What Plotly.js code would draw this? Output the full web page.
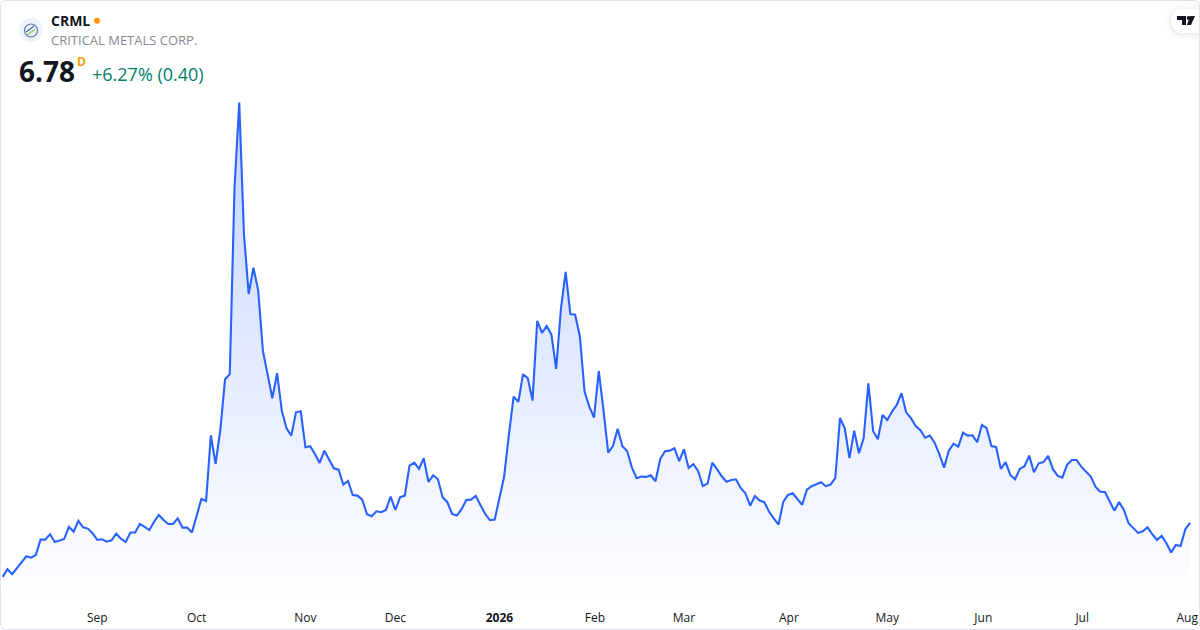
<!DOCTYPE html>
<html><head><meta charset="utf-8">
<script src="https://cdn.plot.ly/plotly-3.0.1.min.js"></script>
<style>html,body{margin:0;padding:0;background:#fff;overflow:hidden}#c{position:absolute;left:0;top:0;width:1200px;height:630px}
#b{position:absolute;left:0;top:0;width:1200px;height:630px;box-sizing:border-box;border:1px solid #e0e3eb;border-radius:6px;pointer-events:none}</style>
</head><body><div id="c"></div><div id="b"></div>
<script>
const symbol = "CRML";
const companyName = "CRITICAL METALS CORP.";
const lastPrice = "6.78";
const interval = "D";
const changeText = "+6.27% (0.40)";
const closes = [3.41,3.89,3.58,3.95,4.36,4.70,4.61,4.78,5.74,5.74,6.08,5.59,5.68,5.78,6.53,6.24,6.91,6.51,6.43,6.14,
5.72,5.76,5.61,5.70,6.11,5.80,5.59,6.18,6.18,6.72,6.53,6.34,6.86,7.28,6.97,6.72,6.72,7.07,6.49,6.49,
6.18,7.22,8.28,8.16,12.26,10.47,12.59,15.76,16.08,27.72,33.06,24.84,21.09,22.74,21.34,17.55,16.16,14.58,16.14,13.80,
12.70,12.24,13.70,13.76,11.51,11.58,11.09,10.53,11.30,10.76,10.20,10.11,9.18,9.41,8.53,8.49,8.24,7.33,7.20,7.51,
7.45,7.59,8.43,7.59,8.39,8.49,10.36,10.55,10.16,10.83,9.34,9.76,9.51,8.39,8.08,7.34,7.24,7.64,8.22,8.24,
8.47,7.89,7.34,6.95,6.99,8.33,9.68,12.28,14.68,14.36,16.08,15.83,14.43,19.41,18.66,19.09,18.55,16.41,20.14,22.47,
19.84,19.80,18.47,14.99,14.05,13.36,16.28,13.84,11.18,11.59,12.66,11.58,11.28,10.26,9.58,9.68,9.66,9.76,9.39,10.78,
11.26,11.30,11.45,10.64,11.38,10.22,10.45,10.03,9.09,9.24,10.55,10.14,9.70,9.36,9.47,9.51,8.97,8.64,7.86,8.47,
8.18,8.08,7.49,7.07,6.68,8.09,8.53,8.64,8.30,7.92,8.86,9.08,9.20,9.33,9.08,9.18,9.59,13.34,12.70,10.83,
12.55,11.14,12.09,15.51,12.53,12.01,13.53,13.22,13.74,14.16,14.89,13.68,13.33,12.84,12.58,12.11,12.24,11.80,11.08,10.24,
11.30,11.74,11.55,12.43,12.24,12.26,11.83,12.91,12.70,11.59,11.53,10.16,10.58,9.78,9.51,10.16,10.33,10.99,9.95,10.51,
10.59,10.97,10.14,9.74,9.61,10.41,10.72,10.72,10.30,9.99,9.68,9.05,8.74,8.72,8.16,7.55,8.09,7.59,6.76,6.43,
6.16,6.26,6.51,6.08,5.72,5.97,5.51,4.93,5.41,5.34,6.39,6.78];
const sessions = closes.map((_, i) => i);
const tickSessions = [20,41,64,83,105,125.2,144,166.2,187,207.3,228.2,250.4];
const tickLabels = ["Sep","Oct","Nov","Dec","<b>2026</b>","Feb","Mar","Apr","May","Jun","Jul","Aug"];

const W = 1200, PH = 602;
const px = x => x / W, py = y => 1 - y / PH;
const circ = (cx,cy,r,fill,line) => ({type:'circle',xref:'paper',yref:'paper',x0:px(cx-r),x1:px(cx+r),y0:py(cy+r),y1:py(cy-r),fillcolor:fill,line:line||{width:0},layer:'above'});
const path = (pts,fill,line) => ({type:'path',xref:'paper',yref:'paper',path:'M'+pts.map(p=>px(p[0])+','+py(p[1])).join(' L')+(fill?' Z':''),fillcolor:fill||'rgba(0,0,0,0)',line:line||{width:0},layer:'above'});
const note = (text,x,y,size,color,extra) => Object.assign({text,xref:'paper',yref:'paper',x:px(x),y:py(y),xanchor:'left',yanchor:'middle',showarrow:false,borderpad:0,
  font:{family:'"Open Sans",sans-serif',size,color}},extra||{});

// TradingView badge: soft shadow layers then white pill
const badge = [];
[[6,0.008],[4,0.012],[2.5,0.018],[1,0.022]].forEach(([g,a])=>{
  badge.push({type:'path',xref:'paper',yref:'paper',layer:'above',line:{width:0},fillcolor:'rgba(0,0,0,'+a+')',
   path:`M${px(1200)},${py(9-g+1)} L${px(1183)},${py(9-g+1)} Q${px(1171-g)},${py(9-g+1)} ${px(1171-g)},${py(21)} Q${px(1171-g)},${py(33+g+1)} ${px(1183)},${py(33+g+1)} L${px(1200)},${py(33+g+1)} Z`});
});
badge.push({type:'path',xref:'paper',yref:'paper',layer:'above',line:{width:0},fillcolor:'#fff',
  path:`M${px(1200)},${py(9)} L${px(1183)},${py(9)} Q${px(1171)},${py(9)} ${px(1171)},${py(21)} Q${px(1171)},${py(33)} ${px(1183)},${py(33)} L${px(1200)},${py(33)} Z`});
badge.push(path([[1177,16],[1186,16],[1186,25],[1182,25],[1182,20],[1177,20]],'#131722'));
badge.push(circ(1188.6,18,2,'#131722'));
badge.push(path([[1190.5,16],[1195,16],[1191,25],[1186.8,25]],'#131722'));

// company logo
const logo = [
  circ(31,30,12,'#eef2fb'),
  circ(31,30.5,6.5,'rgba(0,0,0,0)',{width:1.2,color:'#5a7ba8'}),
  path([[26,32],[34,26]],null,{width:1.4,color:'#4a6fa5'}),
  path([[27,35],[35,29.5]],null,{width:1.4,color:'#8fbf5a'})
];

const trace = {
  type:'scatter', mode:'lines', x:sessions, y:closes,
  line:{color:'#2962ff',width:2.1,shape:'linear'},
  fill:'tozeroy',
  fillgradient:{type:'vertical',start:1.7,stop:33,colorscale:[[0,'rgba(41,98,255,0)'],[1,'rgba(41,98,255,0.27)']]},
  hoverinfo:'skip'
};
const layout = {
  width:1200,height:630,margin:{l:0,r:0,t:0,b:28,pad:0},
  paper_bgcolor:'#fff',plot_bgcolor:'#fff',showlegend:false,
  xaxis:{range:[-0.571,253.1],tickmode:'array',tickvals:tickSessions,ticktext:tickLabels,showgrid:false,zeroline:false,showline:false,
    ticks:'outside',ticklen:5,tickcolor:'rgba(0,0,0,0)',
    tickfont:{family:'"Open Sans",sans-serif',size:12,color:'#131722'},tickangle:0,automargin:false,fixedrange:true},
  yaxis:{range:[1.84,39.47],visible:false,showgrid:false,zeroline:false,fixedrange:true},
  shapes:[...logo,circ(97,20.7,3,'#ff9800'),...badge],
  annotations:[
    note(symbol,49.5,21,14,'#131722',{font:{family:'"Open Sans",sans-serif',size:14,color:'#131722',weight:700}}),
    note(companyName,49.5,40,13,'#868993'),
    note('<b>'+lastPrice+'</b>',18,70.5,28,'#131722'),
    note('<b>'+interval+'</b>',75.5,61,12,'#f59e0b'),
    note(changeText,90.7,74,18,'#00806a')
  ]
};
Plotly.newPlot('c',[trace],layout,{displayModeBar:false,staticPlot:true});
</script></body></html>
